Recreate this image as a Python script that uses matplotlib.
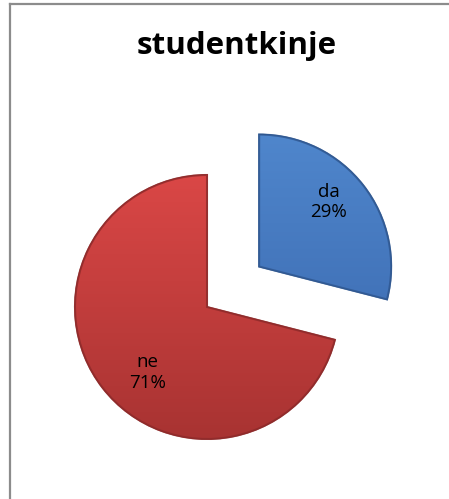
import numpy as np
import matplotlib
matplotlib.use("Agg")
import matplotlib.pyplot as plt
from matplotlib.colors import LinearSegmentedColormap
from matplotlib.lines import Line2D
from matplotlib.patches import Wedge

# Survey answers
title = "studentkinje"
categories = ["da", "ne"]
shares = [29, 71]

# Slice colours: (top shade, bottom shade, edge)
slice_colours = [
    ("#4F86CC", "#3A68AE", "#2F5790"),
    ("#DA4746", "#A83332", "#8E2A2A"),
]

W, H = 449, 499
fig = plt.figure(figsize=(W / 100, H / 100), dpi=100)
fig.patch.set_facecolor("white")
ax = fig.add_axes([0, 0, 1, 1])

center = (207, H - 307)
radius = 132
pull_out = 0.5 * radius  # first slice is pulled away from the centre

wedges, _ = ax.pie(
    shares,
    explode=[pull_out, 0],
    startangle=90,
    counterclock=False,
    center=center,
    radius=radius,
    colors=[c[1] for c in slice_colours],
    wedgeprops=dict(linewidth=1.2),
    frame=True,
)

ax.set_xlim(0, W)
ax.set_ylim(0, H)
ax.set_aspect("equal")
ax.axis("off")

# Vertical shading inside each slice, plus labels
label_turn = [5.0, 10.0]
label_dist = [0.72, 0.67]
for wedge, name, val, (top, bottom, edge), dang, dist in zip(
        wedges, categories, shares, slice_colours, label_turn, label_dist):
    wedge.set_edgecolor(edge)
    x0, y0 = wedge.center
    cmap = LinearSegmentedColormap.from_list("shade", [bottom, top])
    grad = np.linspace(0, 1, 256).reshape(-1, 1)
    im = ax.imshow(grad, cmap=cmap, origin="lower", aspect="auto",
                   extent=(x0 - radius, x0 + radius, y0 - radius, y0 + radius),
                   zorder=wedge.get_zorder() + 0.1)
    im.set_clip_path(wedge)
    # darker rim
    ax.add_patch(Wedge((x0, y0), radius, wedge.theta1, wedge.theta2,
                       facecolor="none", edgecolor=edge, linewidth=1.5,
                       alpha=0.8, zorder=wedge.get_zorder() + 0.2))

    mid = np.deg2rad((wedge.theta1 + wedge.theta2) / 2 + dang)
    d = dist * radius
    ax.text(x0 + d * np.cos(mid), y0 + d * np.sin(mid), f"{name}\n{val}%",
            ha="center", va="center", fontsize=13.5, family="Open Sans",
            color="black", linespacing=1.2, zorder=5)

fig.text(237 / W, 1 - 46 / H, title, ha="center", va="center",
         fontsize=22.5, fontweight="bold", family="Open Sans")

# Chart frame (top and left rules)
fig.add_artist(Line2D([9.5 / W, 9.5 / W], [0, 1 - 4 / H],
                      transform=fig.transFigure, color="#8C8C8C", linewidth=1.6))
fig.add_artist(Line2D([9.5 / W, 1], [1 - 4 / H, 1 - 4 / H],
                      transform=fig.transFigure, color="#8C8C8C", linewidth=1.6))

fig.savefig("out.png", dpi=100, facecolor="white")
